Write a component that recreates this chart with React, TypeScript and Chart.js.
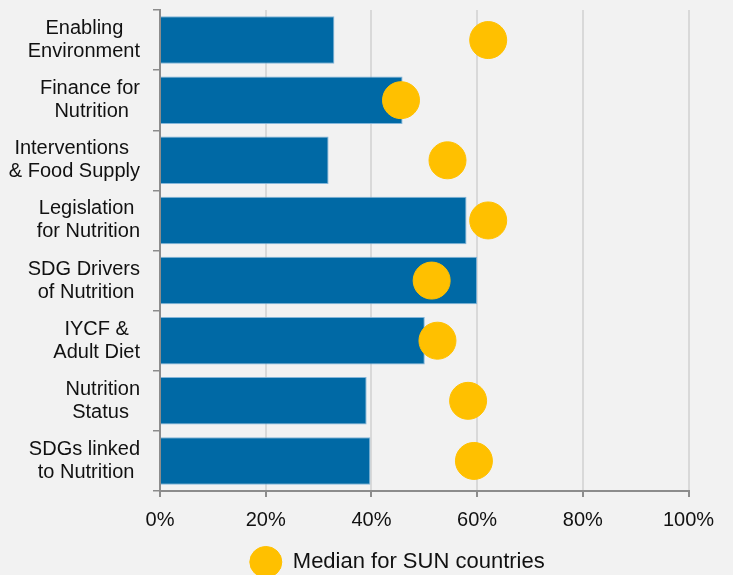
import React, { useEffect, useRef } from "react";
import { Chart, registerables } from "chart.js";

Chart.register(...registerables);

const categories: string[][] = [
  ["Enabling", "Environment"],
  ["Finance for", "Nutrition"],
  ["Interventions", "& Food Supply"],
  ["Legislation", "for Nutrition"],
  ["SDG Drivers", "of Nutrition"],
  ["IYCF &", "Adult Diet"],
  ["Nutrition", "Status"],
  ["SDGs linked", "to Nutrition"],
];

const countryValues: number[] = [33, 45.9, 31.9, 58, 60, 50.1, 39.1, 39.8];
const medianValues: number[] = [62.1, 45.6, 54.4, 62.1, 51.4, 52.5, 58.3, 59.4];
const medianLabel = "Median for SUN countries";
const xTicks: number[] = [0, 20, 40, 60, 80, 100];

const FONT = "'Liberation Sans', Arial, sans-serif";
const FONT_SIZE = 20;
const LEGEND_FONT_SIZE = 22;

// Center-align the lines of a multi-line label (block stays right-aligned)
function centerLines(lines: string[]): string[] {
  const c = document.createElement("canvas").getContext("2d")!;
  c.font = `${FONT_SIZE}px ${FONT}`;
  const widths = lines.map((l) => c.measureText(l).width);
  const max = Math.max(...widths);
  const sp = c.measureText(" ").width;
  return lines.map((l, i) => l + " ".repeat(Math.round((max - widths[i]) / 2 / sp)));
}

export default function App() {
  const ref = useRef<HTMLCanvasElement>(null);
  useEffect(() => {
    const labels = categories.map(centerLines);
    const shiftLegend = {
      id: "shiftLegend",
      afterLayout(chart: any) {
        const l = chart.legend;
        if (!l) return;
        l.left += 53;
        l.right += 53;
        l.top += 8;
        l.bottom += 8;
      },
    };
    const chart = new Chart(ref.current!, {
      type: "bar",
      data: {
        labels,
        datasets: [
          {
            type: "bar",
            label: "Country",
            data: countryValues,
            backgroundColor: "#0069A5",
            borderColor: "rgba(120,175,215,0.9)",
            borderWidth: 1,
            barPercentage: 0.79,
            categoryPercentage: 1,
            order: 2,
          },
          {
            type: "line",
            label: medianLabel,
            data: medianValues,
            showLine: false,
            clip: false,
            pointRadius: 18.5,
            pointHoverRadius: 18.5,
            pointBackgroundColor: "#FFC000",
            pointBorderColor: "#FFC000",
            backgroundColor: "#FFC000",
            borderColor: "#FFC000",
            borderWidth: 1,
            order: 1,
          } as any,
        ],
      },
      options: {
        indexAxis: "y",
        animation: false,
        responsive: false,
        maintainAspectRatio: false,
        layout: { autoPadding: false, padding: { top: 10, right: 44.5, left: 0, bottom: 0 } },
        plugins: {
          tooltip: { enabled: false },
          legend: {
            position: "bottom",
            labels: {
              filter: (item: any) => item.datasetIndex === 1,
              usePointStyle: true,
              pointStyle: "circle",
              pointStyleWidth: 32,
              color: "#111",
              padding: 10,
              font: { family: FONT, size: LEGEND_FONT_SIZE },
            },
          },
        },
        scales: {
          x: {
            min: 0,
            max: 100,
            afterBuildTicks: (scale: any) => {
              scale.ticks = xTicks.map((v) => ({ value: v }));
            },
            afterFit: (scale: any) => {
              scale.height = 42;
              scale.paddingLeft = 0;
              scale.paddingRight = 0;
            },
            ticks: {
              callback: (v: any) => `${v}%`,
              color: "#111",
              padding: 11,
              font: { family: FONT, size: FONT_SIZE },
            },
            grid: {
              color: "#D9D9D9",
              lineWidth: 2,
              tickColor: "#8C8C8C",
              tickLength: 6,
            },
            border: { color: "#8C8C8C", width: 2 },
          },
          y: {
            afterFit: (scale: any) => {
              scale.width = 160;
              scale.paddingTop = 0;
              scale.paddingBottom = 0;
            },
            ticks: {
              color: "#111",
              padding: 13,
              font: { family: FONT, size: FONT_SIZE, lineHeight: 1.15 },
            },
            grid: {
              offset: true,
              drawOnChartArea: false,
              tickColor: "#8C8C8C",
              tickLength: 7,
              lineWidth: 1.5,
            },
            border: { color: "#8C8C8C", width: 2 },
          },
        },
      },
      plugins: [shiftLegend],
    });
    return () => chart.destroy();
  }, []);
  return (
    <div
      style={{
        position: "absolute",
        left: 0,
        top: 0,
        width: 733,
        height: 575,
        background: "#F2F2F2",
      }}
    >
      <canvas ref={ref} width={733} height={575} style={{ width: 733, height: 575, display: "block" }} />
    </div>
  );
}
